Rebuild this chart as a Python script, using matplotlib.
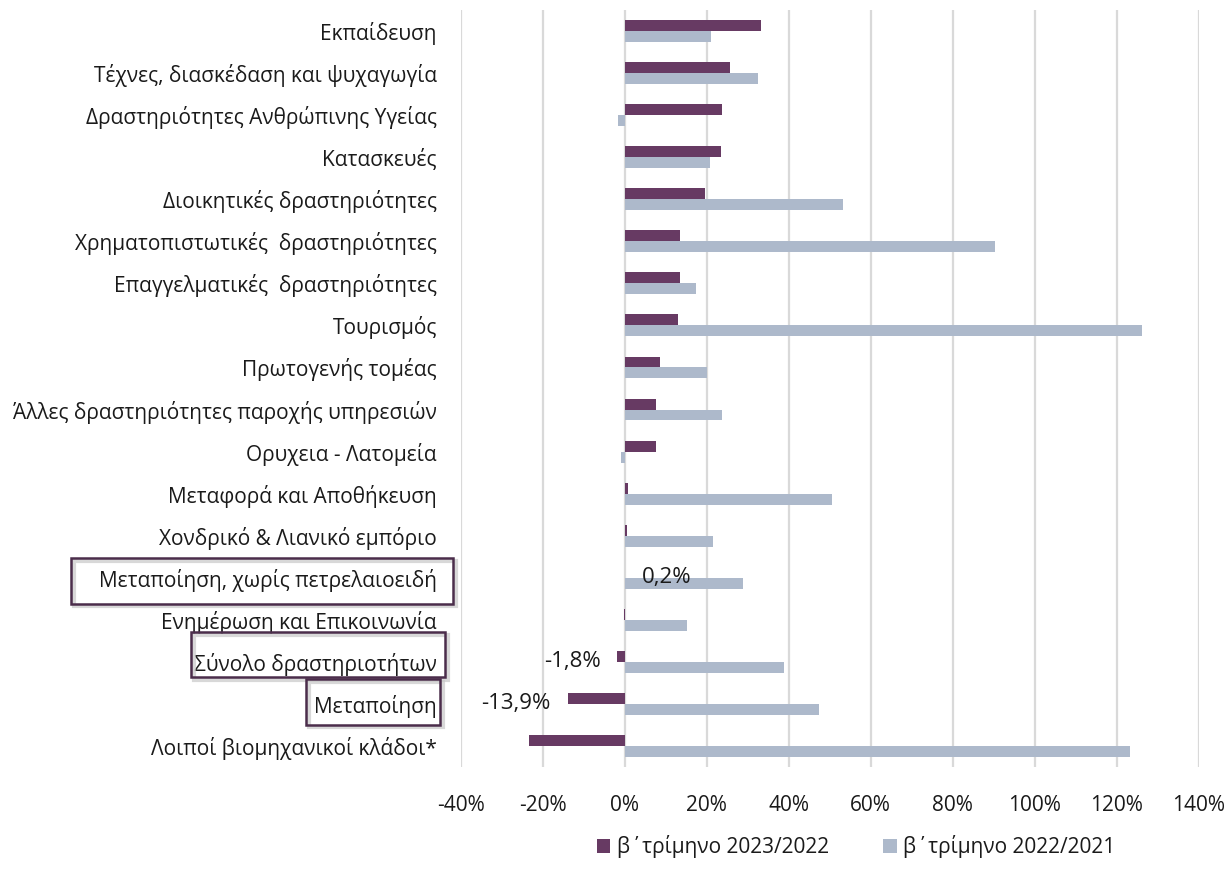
import numpy as np
import matplotlib
matplotlib.use("Agg")
import matplotlib.pyplot as plt
from matplotlib.patches import Rectangle
import matplotlib.transforms as mtransforms

plt.rcParams['font.family'] = ['Open Sans', 'DejaVu Sans']

categories = [
    "Εκπαίδευση",
    "Τέχνες, διασκέδαση και ψυχαγωγία",
    "Δραστηριότητες Ανθρώπινης Υγείας",
    "Κατασκευές",
    "Διοικητικές δραστηριότητες",
    "Χρηματοπιστωτικές  δραστηριότητες",
    "Επαγγελματικές  δραστηριότητες",
    "Τουρισμός",
    "Πρωτογενής τομέας",
    "Άλλες δραστηριότητες παροχής υπηρεσιών",
    "Ορυχεια - Λατομεία",
    "Μεταφορά και Αποθήκευση",
    "Χονδρικό & Λιανικό εμπόριο",
    "Μεταποίηση, χωρίς πετρελαιοειδή",
    "Ενημέρωση και Επικοινωνία",
    "Σύνολο δραστηριοτήτων",
    "Μεταποίηση",
    "Λοιποί βιομηχανικοί κλάδοι*",
]
series_2023 = [33.3, 25.7, 23.8, 23.5, 19.7, 13.6, 13.4, 13.0, 8.7, 7.6, 7.6,
               0.9, 0.7, 0.2, -0.2, -1.8, -13.9, -23.4]
series_2022 = [21.0, 32.6, -1.7, 20.7, 53.3, 90.3, 17.5, 126.2, 20.2, 23.7, -1.0,
               50.5, 21.5, 28.8, 15.3, 38.9, 47.4, 123.3]
legend_labels = ["β΄τρίμηνο 2023/2022", "β΄τρίμηνο 2022/2021"]
xticks = [-40, -20, 0, 20, 40, 60, 80, 100, 120, 140]
xtick_labels = ["-40%", "-20%", "0%", "20%", "40%", "60%", "80%", "100%", "120%", "140%"]
highlighted = {"Μεταποίηση, χωρίς πετρελαιοειδή": 0.2,
               "Σύνολο δραστηριοτήτων": -1.8,
               "Μεταποίηση": -13.9}

c_purple = "#673a63"
c_light = "#adb9cb"
c_box = "#4b2d4b"
c_text = "#1a1a1a"
FS = 15

W, H = 1227, 884
fig = plt.figure(figsize=(W / 100, H / 100), dpi=100)
ax = fig.add_axes([460.5 / W, 1 - 767 / H, (1199 - 460.5) / W, (767 - 10) / H])

y = np.arange(len(categories))
h = 0.26
ax.barh(y - h / 2, series_2023, height=h, color=c_purple, label=legend_labels[0], zorder=3)
ax.barh(y + h / 2, series_2022, height=h, color=c_light, label=legend_labels[1], zorder=3)

ax.set_xlim(-40, 140)
ax.set_ylim(len(categories) - 0.5, -0.5)
ax.set_xticks(xticks)
ax.set_xticklabels(xtick_labels, fontsize=FS, color=c_text)
ax.set_yticks(y)
ax.set_yticklabels(categories, fontsize=FS, color=c_text)
ax.tick_params(axis='x', length=0, pad=20)
ax.tick_params(axis='y', length=0, pad=17)
for s in ax.spines.values():
    s.set_visible(False)
ax.grid(axis='x', color="#d9d9d9", lw=1.6, zorder=0)
ax.set_axisbelow(True)

# data labels for highlighted categories
for name, val in highlighted.items():
    i = categories.index(name)
    txt = f"{val:.1f}".replace(".", ",") + "%"
    if val >= 0:
        ax.text(val + 3.9, i + 0.0, txt, ha='left', va='center', fontsize=FS + 1,
                color=c_text, zorder=5)
    else:
        ax.text(val - 4.1, i + 0.0, txt, ha='right', va='center', fontsize=FS + 1,
                color=c_text, zorder=5)

# boxes around highlighted labels (x in figure fraction, y in data)
trans = mtransforms.blended_transform_factory(fig.transFigure, ax.transData)
shadow_off = mtransforms.ScaledTranslation(2.5 / 100, -2.5 / 100, fig.dpi_scale_trans)
box_x = {"Μεταποίηση, χωρίς πετρελαιοειδή": (71, 453),
         "Σύνολο δραστηριοτήτων": (191, 445),
         "Μεταποίηση": (306, 440)}
box_dy = {"Μεταποίηση, χωρίς πετρελαιοειδή": 0.08,
          "Σύνολο δραστηριοτήτων": -0.17,
          "Μεταποίηση": -0.05}
for name, (x0, x1) in box_x.items():
    i = categories.index(name) + box_dy[name]
    sh = Rectangle((x0 / W, i - 0.54), (x1 - x0) / W, 1.08, transform=trans + shadow_off,
                   fill=False, ec="#c8c8c8", lw=3.0, alpha=0.7, clip_on=False, zorder=5)
    fig.add_artist(sh)
    r = Rectangle((x0 / W, i - 0.54), (x1 - x0) / W, 1.08, transform=trans,
                  fill=False, ec=c_box, lw=1.8, clip_on=False, zorder=6)
    fig.add_artist(r)

leg = fig.legend(loc='center', bbox_to_anchor=(856 / W, 1 - 847 / H), ncol=2, frameon=False,
                 fontsize=FS, handlelength=0.65, handleheight=0.65, handletextpad=0.3,
                 columnspacing=2.6)
for t in leg.get_texts():
    t.set_color(c_text)

fig.savefig("out.png", dpi=100, facecolor="white")
